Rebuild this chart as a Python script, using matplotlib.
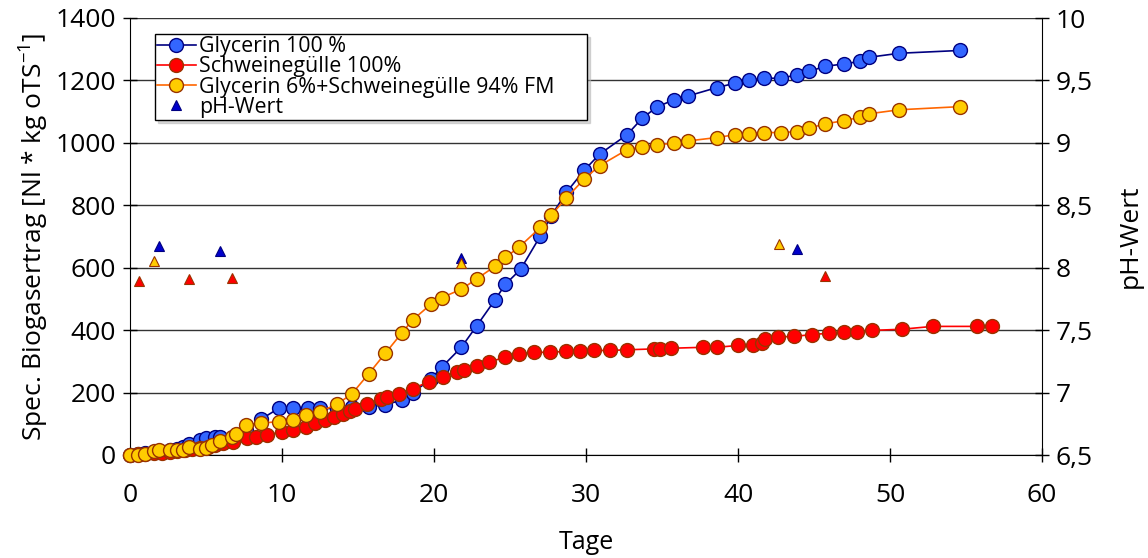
import matplotlib
matplotlib.use("Agg")
import matplotlib.pyplot as plt
from matplotlib.ticker import FuncFormatter

plt.rcParams['font.family'] = ['Open Sans', 'DejaVu Sans']

# Glycerin 100 %
gly_days = [0, 0.5, 1, 1.6, 2, 2.6, 3.1, 3.5, 3.9, 4.6, 5.0, 5.6, 5.9, 6.7, 7.0, 7.6,
            8.6, 9.8, 10.7, 11.7, 12.5, 13.6, 14.6, 15.7, 16.8, 17.9, 18.6, 19.8,
            20.5, 21.8, 22.8, 24.0, 24.7, 25.7, 27.0, 27.7, 28.7, 29.9, 30.9, 32.7,
            33.7, 34.7, 35.8, 36.7, 38.6, 39.8, 40.7, 41.7, 42.8, 43.9, 44.7, 45.7,
            47.0, 48.0, 48.6, 50.6, 54.6]
gly_gas = [0, 2, 5, 10, 12, 15, 20, 25, 35, 48, 55, 57, 57, 55, 60, 80,
           114, 150, 150, 150, 150, 148, 155, 155, 160, 177, 200, 243,
           281, 345, 413, 496, 547, 595, 702, 765, 841, 913, 964, 1026,
           1079, 1116, 1138, 1150, 1177, 1191, 1200, 1207, 1207, 1218, 1229, 1245,
           1253, 1261, 1274, 1287, 1296]

# Schweineguelle 100%
sg_days = [0, 0.5, 1, 1.6, 2.1, 2.6, 3.1, 3.6, 4.1, 4.6, 5.1, 5.6, 6.1, 6.8, 7.7,
           8.3, 9.0, 10.0, 10.7, 11.6, 12.2, 12.8, 13.4, 14.0, 14.5, 14.8, 15.6,
           16.5, 16.9, 17.7, 18.6, 19.7, 20.6, 21.5, 22.0, 22.8, 23.6, 24.7, 25.6,
           26.6, 27.6, 28.7, 29.6, 30.5, 31.6, 32.7, 34.5, 34.9, 35.6, 37.7, 38.6,
           40.0, 41.0, 41.6, 41.8, 42.6, 43.7, 44.9, 46.0, 47.0, 47.8, 48.8, 50.8,
           52.8, 55.7, 56.7]
sg_gas = [0, 2, 4, 6, 8, 10, 12, 15, 18, 22, 27, 32, 37, 43, 55,
          59, 64, 75, 80, 91, 102, 112, 123, 131, 140, 147, 162,
          178, 185, 196, 213, 235, 250, 265, 272, 284, 298, 313, 324,
          329, 329, 332, 332, 335, 335, 337, 340, 340, 342, 345, 345,
          351, 354, 360, 372, 378, 380, 386, 390, 393, 395, 399, 403,
          412, 412, 412]

# Glycerin 6% + Schweineguelle 94% FM
mix_days = [0, 0.5, 1.0, 1.6, 1.9, 2.6, 3.1, 3.5, 3.9, 4.6, 5.0, 5.4, 5.9, 6.7, 7.0,
            7.6, 8.6, 9.8, 10.7, 11.6, 12.5, 13.6, 14.6, 15.7, 16.8, 17.9, 18.6,
            19.8, 20.5, 21.8, 22.8, 24.0, 24.7, 25.6, 27.0, 27.7, 28.7, 29.9, 30.9,
            32.7, 33.7, 34.7, 35.8, 36.7, 38.6, 39.8, 40.7, 41.7, 42.8, 43.9, 44.7,
            45.7, 47.0, 48.0, 48.6, 50.6, 54.6]
mix_gas = [0, 0, 2, 12, 16, 16, 16, 16, 25, 20, 24, 32, 45, 58, 66,
           96, 102, 107, 113, 127, 139, 162, 196, 260, 326, 392, 433,
           483, 504, 531, 564, 604, 633, 666, 729, 768, 823, 885, 927,
           978, 988, 994, 999, 1006, 1017, 1026, 1028, 1033, 1033, 1036, 1047,
           1061, 1071, 1082, 1093, 1106, 1116]

# pH-Wert
ph_gly_days = [1.9, 5.9, 21.8, 43.9]
ph_gly = [8.17, 8.13, 8.08, 8.15]
ph_sg_days = [0.6, 3.9, 6.7, 45.7]
ph_sg = [7.89, 7.91, 7.92, 7.93]
ph_mix_days = [1.6, 21.8, 42.7]
ph_mix = [8.05, 8.04, 8.19]

fig = plt.figure(figsize=(11.48, 5.58), dpi=100)
ax = fig.add_axes([130 / 1148, 1 - 455 / 558, 912 / 1148, 437 / 558])
ax2 = ax.twinx()

ax.plot(gly_days, gly_gas, '-o', color='#000080', lw=1.2, ms=10,
        mfc='#3366FF', mec='#000080', mew=1, clip_on=False, zorder=3,
        label='Glycerin 100 %')
ax.plot(sg_days, sg_gas, '-o', color='#FF0000', lw=1.2, ms=10,
        mfc='#FF0000', mec='#993300', mew=1, clip_on=False, zorder=4,
        label='Schweinegülle 100%')
ax.plot(mix_days, mix_gas, '-o', color='#FF6600', lw=1.2, ms=10,
        mfc='#FFCC00', mec='#993300', mew=1, clip_on=False, zorder=5,
        label='Glycerin 6%+Schweinegülle 94% FM')

ax2.plot(ph_gly_days, ph_gly, '^', ms=7, mfc='#0000CC', mec='#000080', mew=0.8,
         ls='none', label='pH-Wert')
ax2.plot(ph_sg_days, ph_sg, '^', ms=7, mfc='#FF0000', mec='#993300', mew=0.8,
         ls='none')
ax2.plot(ph_mix_days, ph_mix, '^', ms=7, mfc='#FFCC00', mec='#993300', mew=0.8,
         ls='none')

ax.set_xlim(0, 60)
ax.set_ylim(0, 1400)
ax.set_xticks(range(0, 61, 10))
ax.set_yticks(range(0, 1401, 200))
ax2.set_ylim(6.5, 10)
ax2.set_yticks([6.5 + 0.5 * i for i in range(8)])
ax2.yaxis.set_major_formatter(FuncFormatter(lambda v, p: ('%g' % v).replace('.', ',')))

ax.grid(axis='y', color='#333333', lw=1)
ax.set_axisbelow(True)
for a in (ax, ax2):
    a.spines['top'].set_visible(False)
ax.spines['right'].set_visible(False)
ax2.spines['left'].set_visible(False)
ax2.spines['bottom'].set_visible(False)

ax.tick_params(axis='both', direction='inout', length=10, width=1, labelsize=19)
ax.tick_params(axis='x', pad=15)
ax.tick_params(axis='y', pad=5)
ax2.tick_params(axis='y', direction='inout', length=10, width=1, labelsize=19, pad=5)

ax.set_xlabel('Tage', fontsize=18, labelpad=16)
ax.set_ylabel(r'Spec. Biogasertrag [Nl * kg oTS$^{\mathregular{-1}}$]', fontsize=19, labelpad=4)
ax2.set_ylabel('pH-Wert', fontsize=19, labelpad=18)

h1, l1 = ax.get_legend_handles_labels()
h2, l2 = ax2.get_legend_handles_labels()
leg = ax.legend(h1 + h2, l1 + l2, loc='upper left',
                bbox_to_anchor=(0.0274, 0.5, 0.4737, 0.463), mode='expand',
                borderaxespad=0, fontsize=15.4, frameon=True, fancybox=False,
                edgecolor='black', framealpha=1, labelspacing=-0.04,
                handlelength=1.8, handletextpad=0.15, borderpad=0.1,
                shadow={'ox': 2, 'oy': -2, 'color': '0.7'})
leg.get_frame().set_linewidth(1)
leg.set_zorder(10)

fig.savefig('out.png', dpi=100)
